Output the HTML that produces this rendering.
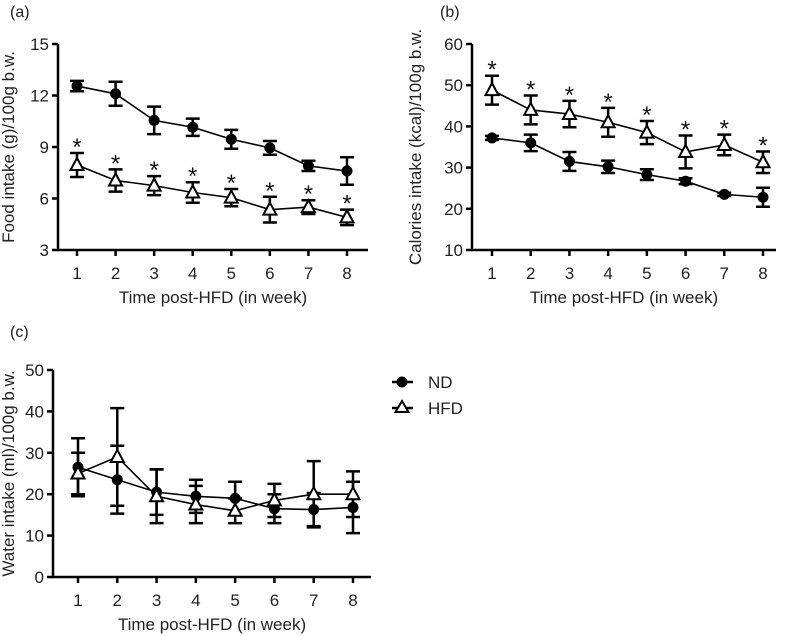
<!DOCTYPE html>
<html><head><meta charset="utf-8"><style>
html,body{margin:0;padding:0;background:#fff;}
svg{display:block;font-family:"Liberation Sans",Arial,sans-serif;}
</style></head><body>
<svg id="fig" width="787" height="636" viewBox="0 0 787 636" xmlns="http://www.w3.org/2000/svg"></svg>
<script>
const weeks = [1,2,3,4,5,6,7,8];
const foodND = [12.55,12.1,10.55,10.15,9.45,8.95,7.9,7.6];
const foodNDerr = [0.3,0.7,0.8,0.5,0.55,0.4,0.3,0.8];
const foodHFD = [7.95,7.05,6.75,6.35,6.05,5.35,5.5,4.9];
const foodHFDerr = [0.7,0.65,0.55,0.6,0.5,0.75,0.4,0.45];
const calND = [37.2,36,31.5,30.2,28.3,26.7,23.5,22.8];
const calNDerr = [0.5,2,2.3,1.5,1.3,0.7,0.4,2.3];
const calHFD = [48.8,44,43,41,38.5,33.8,35.5,31.3];
const calHFDerr = [3.5,3.5,3.2,3.5,2.8,4,2.5,2.6];
const waterND = [26.5,23.5,20.5,19.5,19,16.5,16.3,16.8];
const waterNDerr = [7,8.2,5.5,4,4,3.5,4,6.2];
const waterHFD = [25,29,19.5,17.5,16,18.5,20,20];
const waterHFDerr = [5,11.8,6.5,4.5,3,4,8,5.5];
const foodTicks = [3,6,9,12,15];
const calTicks = [10,20,30,40,50,60];
const waterTicks = [0,10,20,30,40,50];

const NS="http://www.w3.org/2000/svg";
const svg=document.getElementById('fig');
function mk(tag,attrs,parent){const e=document.createElementNS(NS,tag);for(const k in attrs)e.setAttribute(k,attrs[k]);(parent||svg).appendChild(e);return e;}

function panel(cfg){
  const g=mk('g',{});
  
  
  const yMin=cfg.ticks[0], yMax=cfg.ticks[cfg.ticks.length-1];
  const ys=v=>cfg.yBot-(v-yMin)/(yMax-yMin)*(cfg.yBot-cfg.yTop);
  const xs=w=>cfg.x1+(w-1)*(cfg.x8-cfg.x1)/7;
  const lbl=mk('text',{x:cfg.lx,y:cfg.ly,'font-size':16,fill:'#222'},g);lbl.textContent=cfg.label;
  
  
  const ax=mk('path',{d:`M${cfg.ax} ${cfg.yTop} V${cfg.yBot} H${cfg.axEnd}`,stroke:'#000','stroke-width':2.5,fill:'none'},g);
  
  
  cfg.ticks.forEach(t=>{
    mk('line',{x1:cfg.ax-6,x2:cfg.ax,y1:ys(t),y2:ys(t),stroke:'#000','stroke-width':2.5},g);
    const tx=mk('text',{x:cfg.ax-9,y:ys(t)+6,'font-size':17,'text-anchor':'end',fill:'#222'},g);tx.textContent=t;
    
    
  });
  weeks.forEach(w=>{
    mk('line',{x1:xs(w),x2:xs(w),y1:cfg.yBot,y2:cfg.yBot+6,stroke:'#000','stroke-width':2.5},g);
    const tx=mk('text',{x:xs(w),y:cfg.yBot+29,'font-size':17,'text-anchor':'middle',fill:'#222'},g);tx.textContent=w;
    
    
  });
  const xt=mk('text',{x:(cfg.ax+cfg.axEnd)/2,y:cfg.yBot+53,'font-size':17,'text-anchor':'middle',fill:'#222'},g);xt.textContent='Time post-HFD (in week)';
  
  
  const yc=(cfg.yTop+cfg.yBot)/2;
  const yt=mk('text',{x:0,y:0,'font-size':17,'text-anchor':'middle',fill:'#222',transform:`translate(${cfg.ytx},${yc}) rotate(-90)`},g);yt.textContent=cfg.ytitle;
  
  
  cfg.series.forEach(s=>{
    const sg=mk('g',{},g);
    
    
    mk('polyline',{points:weeks.map((w,i)=>xs(w)+','+ys(s.vals[i])).join(' '),fill:'none',stroke:'#000','stroke-width':1.6},sg);
    weeks.forEach((w,i)=>{
      const x=xs(w),hi=ys(s.vals[i]+s.err[i]),lo=ys(s.vals[i]-s.err[i]);
      const eb=mk('path',{d:`M${x} ${hi} V${lo} M${x-7} ${hi} H${x+7} M${x-7} ${lo} H${x+7}`,stroke:'#000','stroke-width':2.5,fill:'none'},sg);
      
      
      const y=ys(s.vals[i]);
      let m;
      if(s.key==='nd') m=mk('circle',{cx:x,cy:y,r:5.5,fill:'#000'},sg);
      else m=mk('path',{d:`M${x} ${y-7} L${x+6.5} ${y+5} L${x-6.5} ${y+5} Z`,fill:'#fff',stroke:'#000','stroke-width':2},sg);
      
      
      if(s.star){
        const st=mk('text',{x:x,y:hi+2,'font-size':24,'text-anchor':'middle',fill:'#111'},sg);st.textContent='*';
        
        
      }
    });
  });
}
panel({name:'panel-a',label:'(a)',lx:10,ly:17,ax:58,axEnd:368,yTop:44,yBot:250,x1:77,x8:347,ticks:foodTicks,ytx:14,ytitle:'Food intake (g)/100g b.w.',
  series:[{key:'nd',vals:foodND,err:foodNDerr},{key:'hfd',vals:foodHFD,err:foodHFDerr,star:true}]});
panel({name:'panel-b',label:'(b)',lx:440,ly:17,ax:472,axEnd:776,yTop:44,yBot:250,x1:492,x8:763,ticks:calTicks,ytx:421,ytitle:'Calories intake (kcal)/100g b.w.',
  series:[{key:'nd',vals:calND,err:calNDerr},{key:'hfd',vals:calHFD,err:calHFDerr,star:true}]});
panel({name:'panel-c',label:'(c)',lx:10,ly:337,ax:53,axEnd:371,yTop:370,yBot:577,x1:78,x8:353,ticks:waterTicks,ytx:14,ytitle:'Water intake (ml)/100g b.w.',
  series:[{key:'nd',vals:waterND,err:waterNDerr},{key:'hfd',vals:waterHFD,err:waterHFDerr}]});

const lg=mk('g',{});


const e1=mk('g',{},lg);


mk('line',{x1:392,x2:413,y1:382,y2:382,stroke:'#000','stroke-width':2.5},e1);
mk('circle',{cx:402,cy:382,r:5.5,fill:'#000'},e1);
const t1=mk('text',{x:428,y:388,'font-size':17,fill:'#222'},e1);t1.textContent='ND';
const e2=mk('g',{},lg);


mk('line',{x1:392,x2:413,y1:408,y2:408,stroke:'#000','stroke-width':2.5},e2);
mk('path',{d:'M402 401 L408.5 412 L395.5 412 Z',fill:'#fff',stroke:'#000','stroke-width':2},e2);
const t2=mk('text',{x:428,y:414,'font-size':17,fill:'#222'},e2);t2.textContent='HFD';
</script>
</body></html>
